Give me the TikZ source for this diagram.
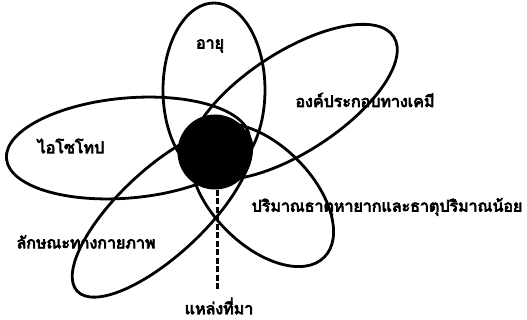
\documentclass[tikz,border=0pt]{standalone}
\usepackage{fontspec}
\newfontfamily\thaifont[Script=Thai,FakeBold=4.5]{Loma}
\usetikzlibrary{shapes.geometric}
\begin{document}
\begin{tikzpicture}[x=1pt,y=-1pt,
  petal/.style={ellipse,draw,line width=2.8pt,inner sep=0pt,outer sep=0pt},
  lbl/.style={font=\thaifont\fontsize{16}{19}\selectfont,inner sep=0pt}]
\useasboundingbox (0,0) rectangle (527,320);
\node[petal,minimum width=102pt,minimum height=174pt] (age) at (214,90) {};
\node[petal,minimum width=244pt,minimum height=100pt,rotate=5] (iso) at (128,148) {};
\node[petal,minimum width=240pt,minimum height=100pt,rotate=33] (chem) at (293,102) {};
\node[petal,minimum width=232pt,minimum height=86pt,rotate=43] (phys) at (162,212) {};
\node[petal,minimum width=176pt,minimum height=100pt,rotate=-45] (trace) at (262,195) {};
\node[circle,fill=black,minimum size=75pt,inner sep=0pt] (core) at (215,152) {};
\coordinate (srcend) at (217,290);
\draw[line width=3pt,dash pattern=on 6pt off 2.5pt] ([xshift=2pt]core.south) -- (srcend);
\node[lbl] (tage) at (210,46) {อายุ};
\node[lbl] (tchem) at (365,100) {องค์ประกอบทางเคมี};
\node[lbl] (tiso) at (71,146) {ไอโซโทป};
\node[lbl] (ttrace) at (387,207) {ปริมาณธาตุหายากและธาตุปริมาณน้อย};
\node[lbl] (tphys) at (86,242) {ลักษณะทางกายภาพ};
\node[lbl] (tsrc) at (219,306) {แหล่งที่มา};
\end{tikzpicture}
\end{document}
